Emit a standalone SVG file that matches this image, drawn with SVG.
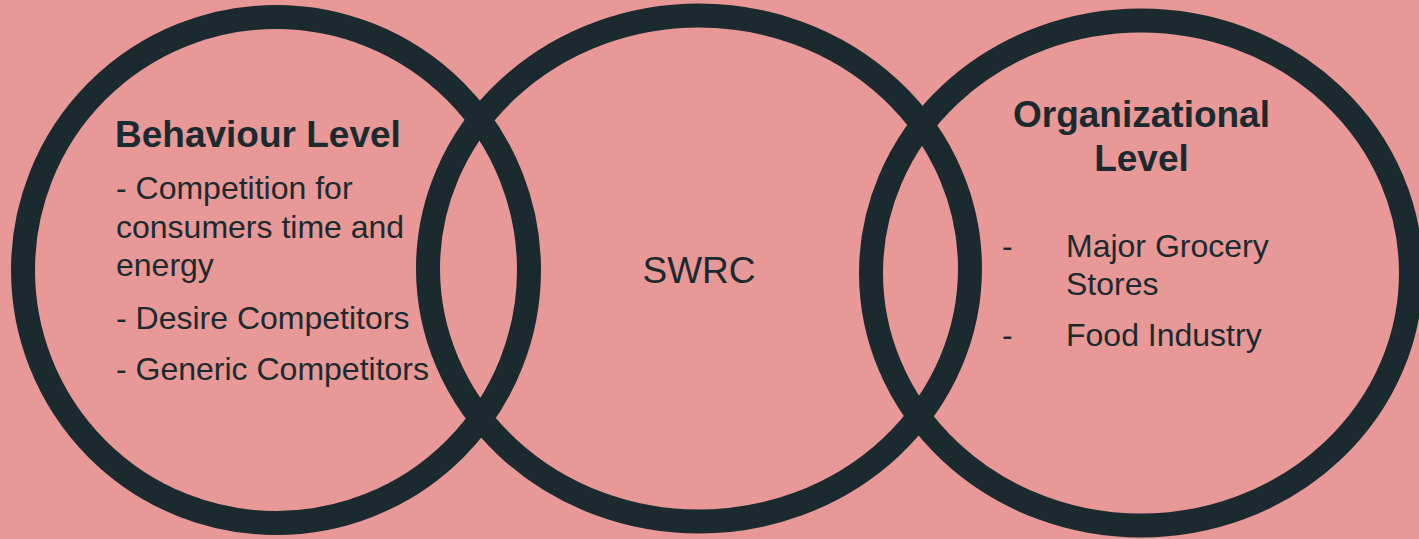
<svg xmlns="http://www.w3.org/2000/svg" width="1419" height="539" viewBox="0 0 1419 539">
  <style>
    .ring { fill: none; stroke: #1B2A2F; stroke-width: 24; }
    .t { font-family: "Liberation Sans", Arial, sans-serif; fill: #1B2A2F; }
    .title { font-size: 37px; font-weight: bold; }
    .body { font-size: 32px; }
    .center { font-size: 37px; }
  </style>
  <rect x="0" y="0" width="1419" height="539" fill="#E89897"/>
  <g id="connectors"></g>
  <g id="node-behaviour">
    <circle class="ring" cx="276" cy="270" r="253"/>
    <text class="t title" x="115" y="147">Behaviour Level</text>
    <text class="t body" x="116" y="199">- Competition for</text>
    <text class="t body" x="116" y="238">consumers time and</text>
    <text class="t body" x="116" y="276">energy</text>
    <text class="t body" x="116" y="329">- Desire Competitors</text>
    <text class="t body" x="116" y="380">- Generic Competitors</text>
  </g>
  <g id="node-swrc">
    <ellipse class="ring" cx="699" cy="268.5" rx="271" ry="253"/>
    <text class="t center" x="699" y="283" text-anchor="middle">SWRC</text>
  </g>
  <g id="node-organizational">
    <ellipse class="ring" cx="1141" cy="273" rx="270" ry="252.5"/>
    <text class="t title" x="1141.5" y="127" text-anchor="middle">Organizational</text>
    <text class="t title" x="1141.5" y="171" text-anchor="middle">Level</text>
    <text class="t body" x="1002" y="257">-</text>
    <text class="t body" x="1066" y="257">Major Grocery</text>
    <text class="t body" x="1066" y="295">Stores</text>
    <text class="t body" x="1002" y="346">-</text>
    <text class="t body" x="1066" y="346">Food Industry</text>
  </g>
</svg>
